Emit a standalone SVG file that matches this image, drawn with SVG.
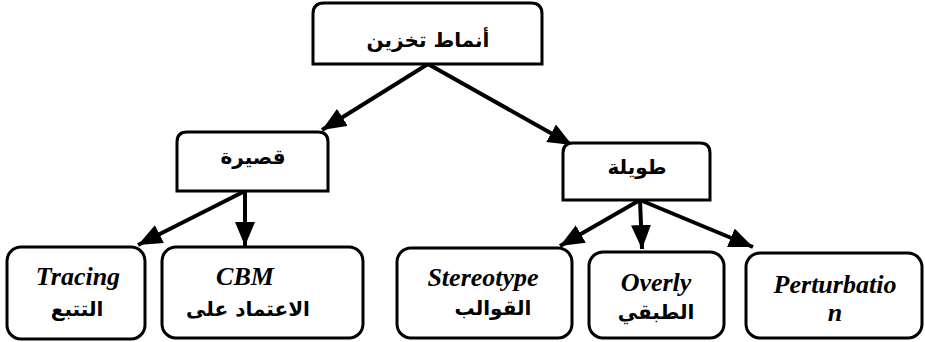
<svg xmlns="http://www.w3.org/2000/svg" width="925" height="342" viewBox="0 0 925 342">
<style>
.box{fill:#fff;stroke:#000;stroke-width:3}
.ar{font-family:"DejaVu Sans","Liberation Sans",sans-serif;font-weight:bold;font-size:20px;text-anchor:middle;fill:#000}
.en{font-family:"Liberation Serif","Times New Roman",serif;font-weight:bold;font-style:italic;font-size:26px;text-anchor:middle;fill:#000}
.cn{stroke:#000;stroke-width:4;fill:none;marker-end:url(#ah)}
</style>
<defs>
<marker id="ah" markerUnits="userSpaceOnUse" markerWidth="26" markerHeight="22" refX="24" refY="10" orient="auto">
<path d="M0,0 L24,10 L0,20 Z" fill="#000"/>
</marker>
</defs>
<rect width="925" height="342" fill="#fff"/>
<g id="connectors">
<line class="cn" x1="428" y1="64" x2="322" y2="130"/>
<line class="cn" x1="428" y1="64" x2="572" y2="145"/>
<line class="cn" x1="245" y1="191" x2="138" y2="245"/>
<line class="cn" x1="245" y1="191" x2="245" y2="246"/>
<line class="cn" x1="640" y1="200" x2="560" y2="246"/>
<line class="cn" x1="640" y1="200" x2="642" y2="249"/>
<line class="cn" x1="640" y1="200" x2="753" y2="247"/>
</g>
<g id="root">
<path class="box" d="M313,64 V14 Q313,3 324,3 H531 Q542,3 542,14 V64 Z"/>
<text class="ar" x="428" y="47">أنماط تخزين</text>
</g>
<g id="short">
<path class="box" d="M177,191 V142 Q177,132 187,132 H318 Q328,132 328,142 V191 Z"/>
<text class="ar" x="253" y="164">قصيرة</text>
</g>
<g id="long">
<path class="box" d="M563,200 V153 Q563,143 573,143 H700 Q710,143 710,153 V200 Z"/>
<text class="ar" x="637" y="174">طويلة</text>
</g>
<g id="tracing">
<rect class="box" x="7" y="247" width="138" height="92" rx="14"/>
<text class="en" x="78" y="285">Tracing</text>
<text class="ar" x="77" y="316">التتبع</text>
</g>
<g id="cbm">
<rect class="box" x="162" y="247" width="201" height="91" rx="14"/>
<text class="en" x="245" y="285">CBM</text>
<text class="ar" x="248" y="316">الاعتماد على</text>
</g>
<g id="stereotype">
<rect class="box" x="397" y="248" width="175" height="90" rx="14"/>
<text class="en" x="483" y="286">Stereotype</text>
<text class="ar" x="493" y="315">القوالب</text>
</g>
<g id="overly">
<rect class="box" x="589" y="252" width="135" height="86" rx="14"/>
<text class="en" x="656" y="291">Overly</text>
<text class="ar" x="656" y="319">الطبقي</text>
</g>
<g id="perturbation">
<rect class="box" x="746" y="253" width="176" height="85" rx="14"/>
<text class="en" x="835" y="293">Perturbatio</text>
<text class="en" x="835" y="321">n</text>
</g>
</svg>
